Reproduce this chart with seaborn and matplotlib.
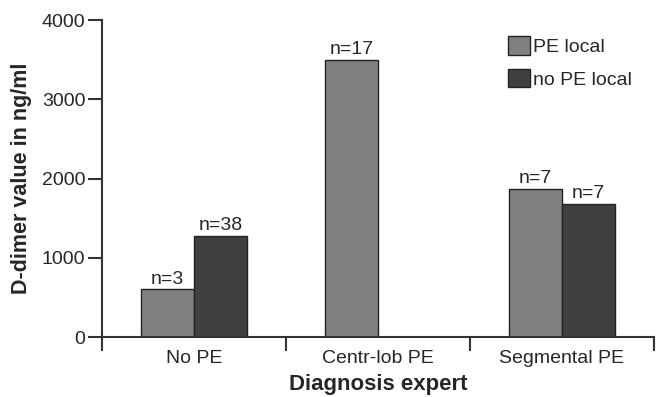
import pandas as pd
import matplotlib
matplotlib.use("Agg")
import matplotlib.pyplot as plt
import seaborn as sns

# data
categories = ["No PE", "Centr-lob PE", "Segmental PE"]
groups = ["PE local", "no PE local"]
pe_local = [600, 3500, 1870]
pe_local_n = [3, 17, 7]
no_pe_local = [1280, None, 1680]
no_pe_local_n = [38, None, 7]

rows = []
for cat, v, n in zip(categories, pe_local, pe_local_n):
    rows.append({"diag": cat, "group": "PE local", "value": v, "n": n})
for cat, v, n in zip(categories, no_pe_local, no_pe_local_n):
    if v is not None:
        rows.append({"diag": cat, "group": "no PE local", "value": v, "n": n})
df = pd.DataFrame(rows)

sns.set_style("white")
plt.rcParams["font.family"] = ["Liberation Sans", "DejaVu Sans"]

fig = plt.figure(figsize=(6.61, 3.97), dpi=100)
ax = fig.add_axes([0.1543, 0.1511, 0.9894 - 0.1543, 0.9496 - 0.1511])

sns.barplot(data=df, x="diag", y="value", hue="group", order=categories,
            hue_order=groups, palette=["#808080", "#404040"], width=0.58,
            edgecolor="#222222", linewidth=1, saturation=1, ax=ax)

for container, g in zip(ax.containers, groups):
    sub = df[df["group"] == g]
    ax.bar_label(container, labels=[f"n={n}" for n in sub["n"]], padding=1,
                 fontsize=14)

ax.set_xlim(-0.5, 2.5)
ax.set_ylim(0, 4000)
ax.set_yticks([0, 1000, 2000, 3000, 4000])
ax.set_xticks([0, 1, 2])
ax.set_xticklabels(categories, fontsize=14)
ax.set_xticks([-0.5, 0.5, 1.5, 2.5], minor=True)
ax.tick_params(axis="x", which="major", length=0, pad=9)
ax.tick_params(axis="x", which="minor", length=10, width=1.5, color="#333333",
               direction="out", bottom=True)
ax.tick_params(axis="y", length=10, width=1.5, color="#333333", labelsize=14,
               direction="out", left=True, pad=2)

for s in ["top", "right"]:
    ax.spines[s].set_visible(False)
for s in ["left", "bottom"]:
    ax.spines[s].set_color("#333333")
    ax.spines[s].set_linewidth(1.5)

ax.set_xlabel("Diagnosis expert", fontsize=16, fontweight="bold", labelpad=5.5)
ax.set_ylabel("D-dimer value in ng/ml", fontsize=15.5, fontweight="bold",
              labelpad=7)

ax.legend(loc="upper left", bbox_to_anchor=(0.735, 0.948), frameon=False,
          fontsize=14, handlelength=1.13, handleheight=1.08, handletextpad=0.15,
          labelspacing=0.65, borderpad=0, borderaxespad=0)

fig.savefig("out.png", dpi=100)
